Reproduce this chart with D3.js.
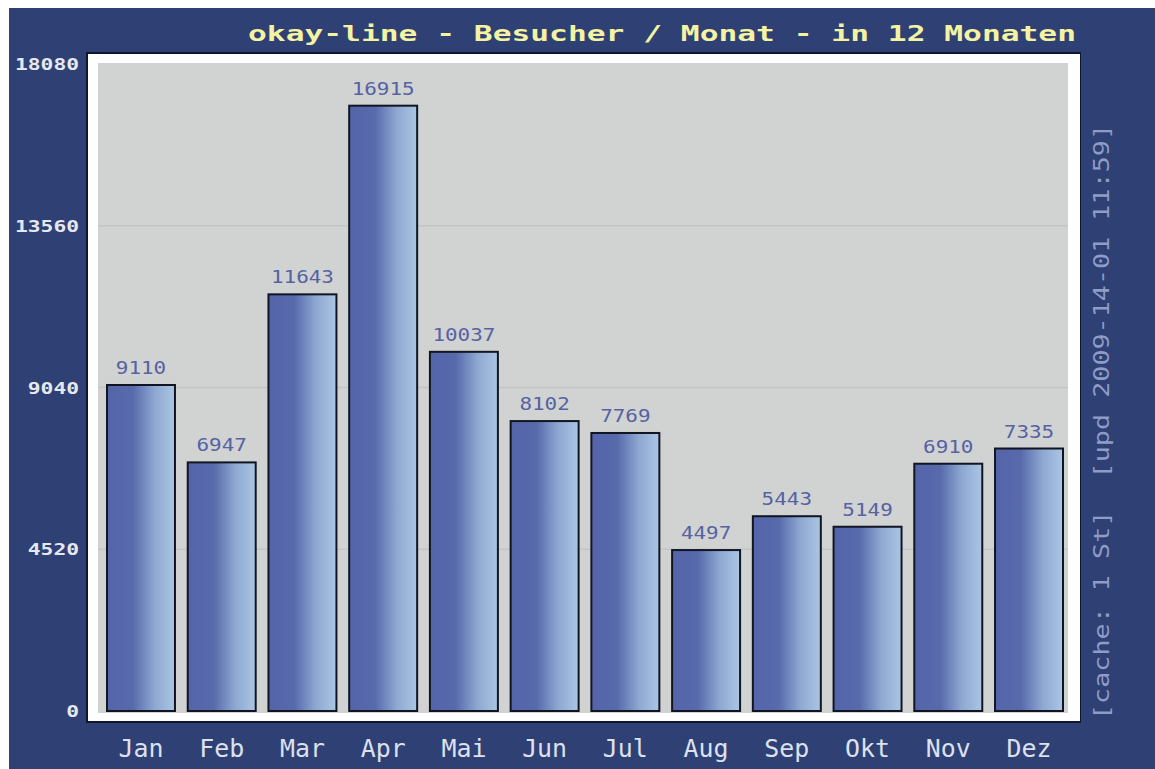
<!DOCTYPE html>
<html><head><meta charset="utf-8">
<script src="https://cdn.jsdelivr.net/npm/d3@7"></script>
<style>html,body{margin:0;padding:0;background:#fff;}</style>
</head><body>
<svg id="chart" width="1155" height="769"></svg>
<script>
const months = ["Jan","Feb","Mar","Apr","Mai","Jun","Jul","Aug","Sep","Okt","Nov","Dez"];
const visitors = [9110,6947,11643,16915,10037,8102,7769,4497,5443,5149,6910,7335];
const yTicks = [0,4520,9040,13560,18080];
const titleText = "okay-line - Besucher / Monat - in 12 Monaten";
const sideText = "[cache: 1 St]  [upd 2009-14-01 11:59]";

const svg = d3.select("#chart");
const mono = "'DejaVu Sans Mono', 'Liberation Mono', monospace";

// background
svg.append("rect").attr("x",9).attr("y",8).attr("width",1146).attr("height",761).attr("fill","#2f4075");

// frame
svg.append("rect").attr("x",86).attr("y",52).attr("width",995).attr("height",671).attr("fill","#0e1630");
svg.append("rect").attr("x",88).attr("y",54).attr("width",992).attr("height",667).attr("fill","#ffffff");
const px0=98, px1=1068, py0=63, py1=713;
svg.append("rect").attr("x",px0).attr("y",py0).attr("width",px1-px0).attr("height",py1-py0).attr("fill","#d1d3d2");

const x = d3.scaleBand().domain(months).range([98,1072]).paddingInner(0.158).paddingOuter(0.1115);
const y = d3.scaleLinear().domain([0,18080]).range([711,64]);

// gradient
const defs = svg.append("defs");
const g = defs.append("linearGradient").attr("id","barGrad").attr("x1","0").attr("x2","1").attr("y1","0").attr("y2","0");
g.append("stop").attr("offset","0%").attr("stop-color","#5464aa");
g.append("stop").attr("offset","38%").attr("stop-color","#576aab");
g.append("stop").attr("offset","70%").attr("stop-color","#8ea8d2");
g.append("stop").attr("offset","100%").attr("stop-color","#abc6e3");

// gridlines
svg.append("g").selectAll("line").data(yTicks.filter(t=>t>0 && t<18080)).join("line")
  .attr("x1",px0).attr("x2",px1).attr("y1",d=>y(d)).attr("y2",d=>y(d))
  .attr("stroke","#c2c4c6").attr("stroke-width",1.5);

// bars
svg.append("g").selectAll("rect").data(visitors).join("rect")
  .attr("x",(d,i)=>x(months[i])).attr("y",d=>y(d))
  .attr("width",x.bandwidth()).attr("height",d=>y(0)-y(d))
  .attr("fill","url(#barGrad)").attr("stroke","#111522").attr("stroke-width",2);

// value labels
svg.append("g").selectAll("text").data(visitors).join("text")
  .attr("x",(d,i)=>x(months[i])+x.bandwidth()/2).attr("y",d=>y(d)-11)
  .attr("text-anchor","middle").attr("font-family",mono).attr("font-size",17)
  .attr("fill","#5662a2")
  .attr("textLength",d=>String(d).length*12.6).attr("lengthAdjust","spacingAndGlyphs")
  .text(d=>d);

// y axis labels
svg.append("g").selectAll("text").data(yTicks).join("text")
  .attr("x",79).attr("y",d=>y(d)+6)
  .attr("text-anchor","end").attr("font-family",mono).attr("font-size",16).attr("font-weight","bold")
  .attr("fill","#e6e8f0")
  .attr("textLength",d=>String(d).length*12.8).attr("lengthAdjust","spacingAndGlyphs")
  .text(d=>d);

// x axis labels
svg.append("g").selectAll("text").data(months).join("text")
  .attr("x",d=>x(d)+x.bandwidth()/2).attr("y",757)
  .attr("text-anchor","middle").attr("font-family",mono).attr("font-size",25)
  .attr("fill","#dde1ee")
  .attr("textLength",45).attr("lengthAdjust","spacingAndGlyphs")
  .text(d=>d);

// title
svg.append("text").attr("x",1076).attr("y",41).attr("text-anchor","end")
  .attr("font-family",mono).attr("font-size",21).attr("font-weight","bold")
  .attr("fill","#f3f3a2")
  .attr("textLength",828).attr("lengthAdjust","spacingAndGlyphs")
  .text(titleText);

// side text
svg.append("text").attr("transform","translate(1109,720) rotate(-90)")
  .attr("font-family",mono).attr("font-size",21)
  .attr("fill","#8e9cc6")
  .attr("textLength",596).attr("lengthAdjust","spacingAndGlyphs")
  .attr("xml:space","preserve")
  .text(sideText);
</script>
</body></html>
